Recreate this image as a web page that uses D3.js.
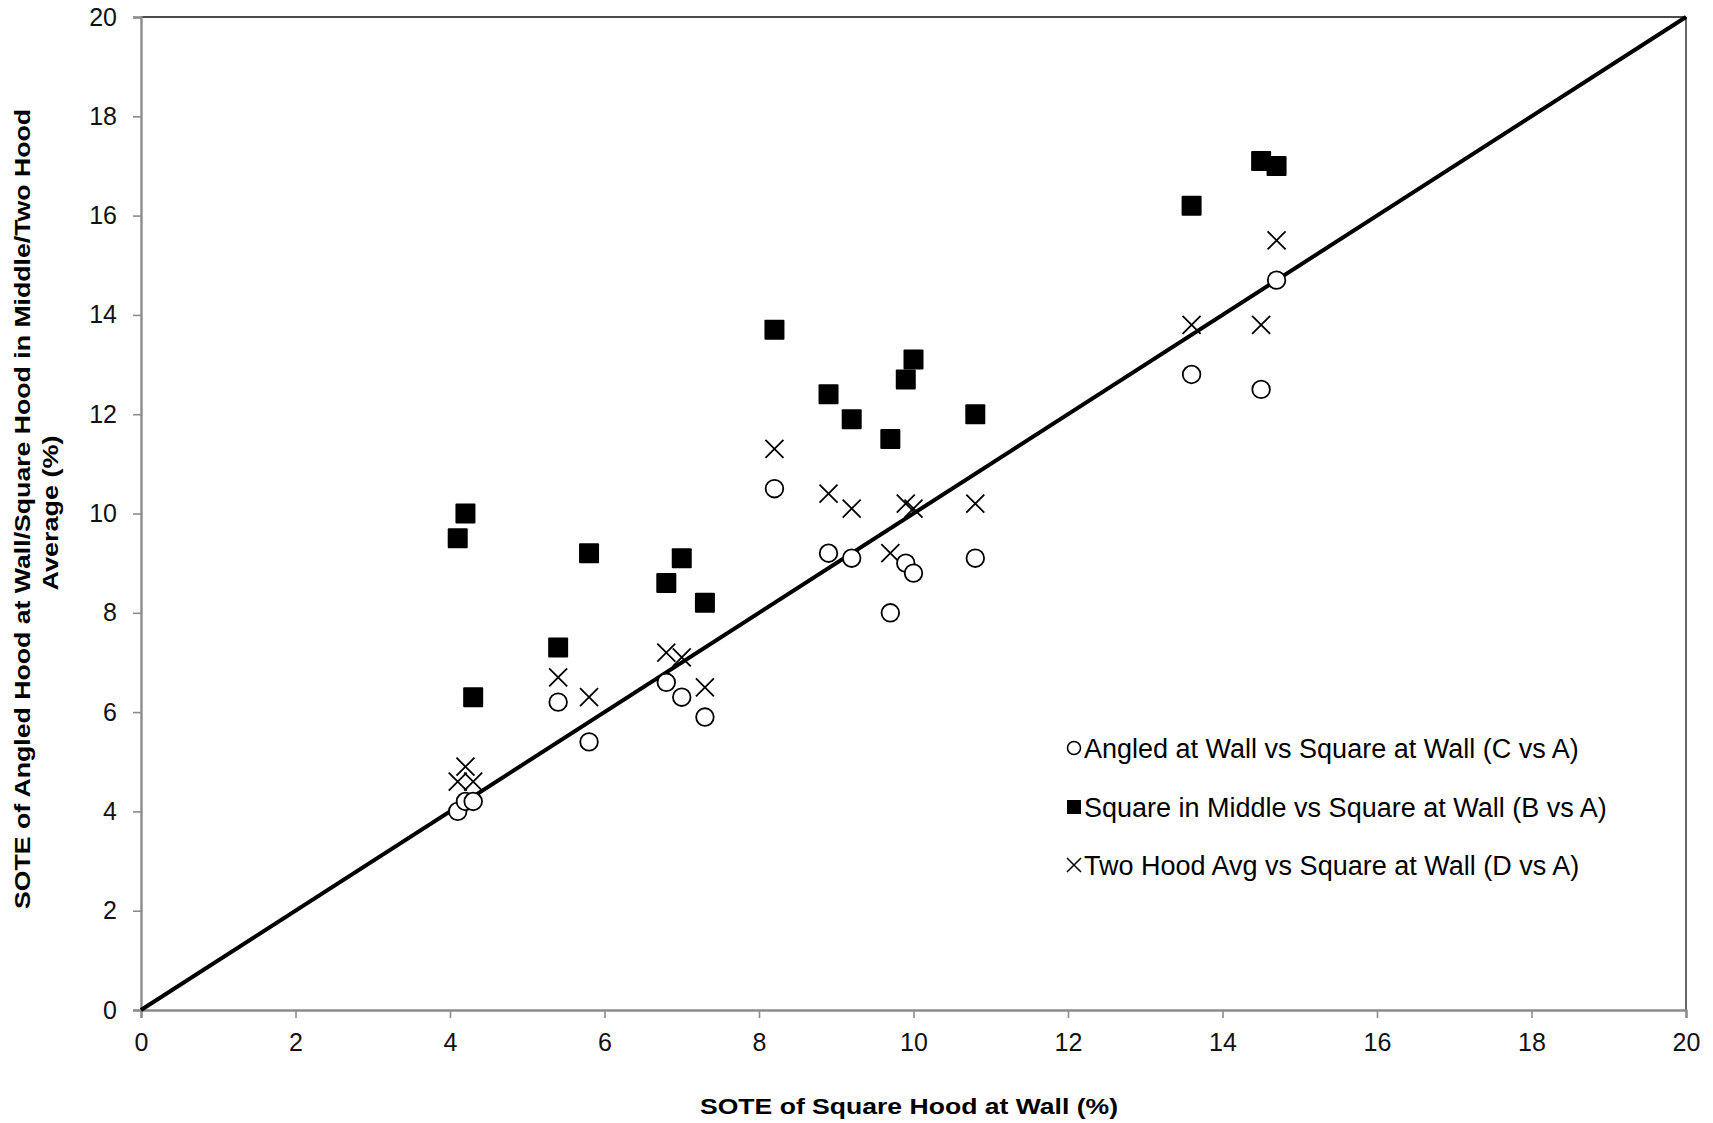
<!DOCTYPE html>
<html>
<head>
<meta charset="utf-8">
<script src="https://cdn.jsdelivr.net/npm/d3@7"></script>
<style>
  html, body { margin: 0; padding: 0; background: #fff; }
  svg { display: block; font-family: "Liberation Sans", Arial, sans-serif; }
</style>
</head>
<body>
<svg id="chart" width="1713" height="1123"></svg>
<script>
// SOTE of square hood at wall (x) vs. comparison configurations (y)
const angledX = [4.1, 4.2, 4.3, 5.4, 5.8, 6.8, 7.0, 7.3, 8.2, 8.9, 9.2, 9.7, 9.9, 10.0, 10.8, 13.6, 14.5, 14.7];
const angledY = [4.0, 4.2, 4.2, 6.2, 5.4, 6.6, 6.3, 5.9, 10.5, 9.2, 9.1, 8.0, 9.0, 8.8, 9.1, 12.8, 12.5, 14.7];

const middleX = [4.1, 4.2, 4.3, 5.4, 5.8, 6.8, 7.0, 7.3, 8.2, 8.9, 9.2, 9.7, 9.9, 10.0, 10.8, 13.6, 14.5, 14.7];
const middleY = [9.5, 10.0, 6.3, 7.3, 9.2, 8.6, 9.1, 8.2, 13.7, 12.4, 11.9, 11.5, 12.7, 13.1, 12.0, 16.2, 17.1, 17.0];

const twoHoodX = [4.1, 4.2, 4.3, 5.4, 5.8, 6.8, 7.0, 7.3, 8.2, 8.9, 9.2, 9.7, 9.9, 10.0, 10.8, 13.6, 14.5, 14.7];
const twoHoodY = [4.6, 4.9, 4.6, 6.7, 6.3, 7.2, 7.1, 6.5, 11.3, 10.4, 10.1, 9.2, 10.2, 10.1, 10.2, 13.8, 13.8, 15.5];

const xTicks = [0, 2, 4, 6, 8, 10, 12, 14, 16, 18, 20];
const yTicks = [0, 2, 4, 6, 8, 10, 12, 14, 16, 18, 20];

const seriesNames = [
  "Angled at Wall vs Square at Wall (C vs A)",
  "Square in Middle vs Square at Wall (B vs A)",
  "Two Hood Avg vs Square at Wall (D vs A)"
];

const xTitle = "SOTE of Square Hood at Wall (%)";
const yTitleLines = ["SOTE of Angled Hood at Wall/Square Hood in Middle/Two Hood", "Average (%)"];

const svg = d3.select("#chart");
const W = 1713, H = 1123;
const margin = { left: 141, right: W - 1686, top: 17, bottom: H - 1010 };

const x = d3.scaleLinear().domain([0, 20]).range([margin.left, W - margin.right]);
const y = d3.scaleLinear().domain([0, 20]).range([H - margin.bottom, margin.top]);

// frame: thin dark top/right edges
svg.append("line").attr("x1", x(0)).attr("x2", x(20)).attr("y1", y(20)).attr("y2", y(20))
  .attr("stroke", "#111").attr("stroke-width", 1.3);
svg.append("line").attr("x1", x(20)).attr("x2", x(20)).attr("y1", y(20)).attr("y2", y(0))
  .attr("stroke", "#111").attr("stroke-width", 1.3);

// axes
const xAxis = svg.append("g").attr("transform", `translate(0,${y(0)})`)
  .call(d3.axisBottom(x).tickValues(xTicks).tickSize(8).tickPadding(15).tickFormat(d3.format("d")));
const yAxis = svg.append("g").attr("transform", `translate(${x(0)},0)`)
  .call(d3.axisLeft(y).tickValues(yTicks).tickSize(8).tickPadding(16).tickFormat(d3.format("d")));

[xAxis, yAxis].forEach(g => {
  g.select(".domain").attr("stroke", "#8c8c8c").attr("stroke-width", 2.4);
  g.selectAll(".tick line").attr("stroke", "#8c8c8c").attr("stroke-width", 1.6);
  g.selectAll(".tick text").attr("fill", "#111").style("font-size", "25px")
    .style("font-family", "'Liberation Sans', Arial, sans-serif");
});

// 1:1 reference line
svg.append("line")
  .attr("x1", x(0)).attr("y1", y(0)).attr("x2", x(20)).attr("y2", y(20))
  .attr("stroke", "#000").attr("stroke-width", 4);

// markers
const g = svg.append("g");
const cross = (sel, s) => sel.attr("d", `M${-s},${-s}L${s},${s}M${-s},${s}L${s},${-s}`);

g.selectAll("path.twohood").data(d3.zip(twoHoodX, twoHoodY)).join("path")
  .attr("class", "twohood")
  .attr("transform", d => `translate(${x(d[0])},${y(d[1])})`)
  .call(cross, 9)
  .attr("fill", "none").attr("stroke", "#000").attr("stroke-width", 1.8);

g.selectAll("rect.middle").data(d3.zip(middleX, middleY)).join("rect")
  .attr("class", "middle")
  .attr("x", d => x(d[0]) - 10).attr("y", d => y(d[1]) - 10)
  .attr("width", 20).attr("height", 20).attr("rx", 1)
  .attr("fill", "#000");

g.selectAll("circle.angled").data(d3.zip(angledX, angledY)).join("circle")
  .attr("class", "angled")
  .attr("cx", d => x(d[0])).attr("cy", d => y(d[1])).attr("r", 8.8)
  .attr("fill", "#fff").attr("stroke", "#000").attr("stroke-width", 1.8);

// legend
const legendY = [748, 807, 865];
const lx = 1074;
const leg = svg.append("g");
leg.append("circle").attr("cx", lx).attr("cy", legendY[0]).attr("r", 6.5)
  .attr("fill", "#fff").attr("stroke", "#000").attr("stroke-width", 1.5);
leg.append("rect").attr("x", lx - 7).attr("y", legendY[1] - 7).attr("width", 14).attr("height", 14).attr("fill", "#000");
leg.append("path").attr("transform", `translate(${lx},${legendY[2]})`).call(cross, 7)
  .attr("stroke", "#000").attr("stroke-width", 1.5).attr("fill", "none");
leg.selectAll("text").data(seriesNames).join("text")
  .attr("x", lx + 10).attr("y", (d, i) => legendY[i]).attr("dy", "0.36em")
  .style("font-size", "27px").attr("fill", "#000")
  .text(d => d);

// axis titles
svg.append("text")
  .attr("x", 909).attr("y", 1114).attr("text-anchor", "middle")
  .style("font-size", "22px").style("font-weight", "bold")
  .attr("textLength", 418).attr("lengthAdjust", "spacingAndGlyphs")
  .text(xTitle);

const yt = svg.append("g").attr("transform", "translate(0,509) rotate(-90)");
yt.append("text").attr("x", 0).attr("y", 30).attr("text-anchor", "middle")
  .style("font-size", "22px").style("font-weight", "bold")
  .attr("textLength", 800).attr("lengthAdjust", "spacingAndGlyphs")
  .text(yTitleLines[0]);
yt.append("text").attr("x", -4).attr("y", 58).attr("text-anchor", "middle")
  .style("font-size", "22px").style("font-weight", "bold")
  .attr("textLength", 155).attr("lengthAdjust", "spacingAndGlyphs")
  .text(yTitleLines[1]);
</script>
</body>
</html>
